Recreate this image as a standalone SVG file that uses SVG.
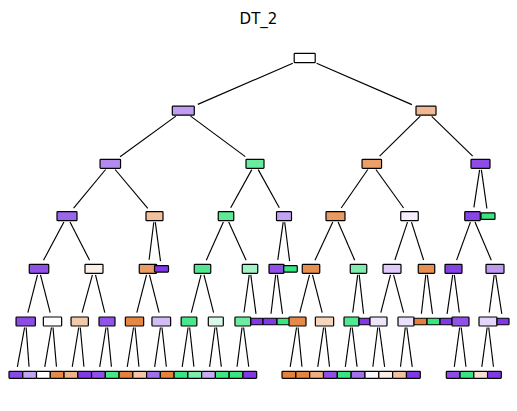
<svg xmlns="http://www.w3.org/2000/svg" width="517" height="411" viewBox="0 0 517 411">
<style>
.bg{fill:#ffffff}
.title{font-family:"DejaVu Sans","Liberation Sans",sans-serif;font-size:15px;fill:#000;text-anchor:middle}
.nd rect{stroke:#000;stroke-width:1.2}
#connectors line{stroke:#000;stroke-width:1.15;fill:none}
</style>
<rect class="bg" x="0" y="0" width="517" height="411"/>
<text class="title" x="258.5" y="23.5">DT_2</text>
<g id="connectors">
<line x1="292.8" y1="63.2" x2="197.8" y2="104.4"/>
<line x1="316.6" y1="63.2" x2="411.9" y2="104.6"/>
<line x1="175.9" y1="116.1" x2="120.1" y2="156.7"/>
<line x1="190.6" y1="116.1" x2="245.3" y2="156.6"/>
<line x1="420.3" y1="116.2" x2="379.6" y2="156.2"/>
<line x1="431.7" y1="116.3" x2="472.7" y2="156.2"/>
<line x1="105.6" y1="169.5" x2="73.6" y2="208.2"/>
<line x1="115.1" y1="169.5" x2="147.8" y2="208.3"/>
<line x1="251.8" y1="169.6" x2="230.7" y2="207.8"/>
<line x1="258.2" y1="169.6" x2="279.3" y2="207.8"/>
<line x1="367.8" y1="169.5" x2="341.2" y2="208.0"/>
<line x1="375.9" y1="169.5" x2="403.6" y2="208.0"/>
<line x1="479.6" y1="169.8" x2="473.9" y2="207.3"/>
<line x1="481.4" y1="169.8" x2="486.9" y2="208.5"/>
<line x1="63.9" y1="222.0" x2="43.5" y2="260.3"/>
<line x1="70.0" y1="222.0" x2="89.6" y2="260.3"/>
<line x1="153.8" y1="222.2" x2="149.1" y2="259.8"/>
<line x1="155.3" y1="222.2" x2="160.5" y2="261.1"/>
<line x1="223.4" y1="222.1" x2="206.3" y2="260.2"/>
<line x1="228.7" y1="222.1" x2="246.1" y2="260.2"/>
<line x1="283.2" y1="222.2" x2="277.8" y2="259.9"/>
<line x1="284.7" y1="222.2" x2="289.6" y2="261.1"/>
<line x1="332.8" y1="222.1" x2="315.0" y2="260.2"/>
<line x1="338.1" y1="222.1" x2="354.7" y2="260.2"/>
<line x1="407.5" y1="222.1" x2="394.9" y2="260.0"/>
<line x1="411.5" y1="222.1" x2="423.6" y2="260.0"/>
<line x1="470.4" y1="222.1" x2="456.6" y2="260.1"/>
<line x1="475.0" y1="222.1" x2="491.3" y2="260.2"/>
<line x1="37.5" y1="274.8" x2="27.9" y2="312.6"/>
<line x1="40.5" y1="274.8" x2="50.2" y2="312.6"/>
<line x1="92.4" y1="274.8" x2="82.1" y2="312.7"/>
<line x1="95.5" y1="274.8" x2="104.8" y2="312.6"/>
<line x1="146.5" y1="274.8" x2="136.8" y2="312.6"/>
<line x1="149.5" y1="274.8" x2="159.1" y2="312.6"/>
<line x1="201.0" y1="274.8" x2="191.3" y2="312.6"/>
<line x1="204.0" y1="274.8" x2="213.6" y2="312.6"/>
<line x1="249.2" y1="274.8" x2="244.0" y2="312.5"/>
<line x1="250.8" y1="274.8" x2="256.0" y2="313.8"/>
<line x1="275.7" y1="274.8" x2="271.0" y2="313.8"/>
<line x1="277.3" y1="274.8" x2="282.5" y2="313.8"/>
<line x1="309.5" y1="274.8" x2="299.8" y2="312.6"/>
<line x1="312.5" y1="274.8" x2="322.2" y2="312.6"/>
<line x1="357.7" y1="274.8" x2="352.7" y2="312.5"/>
<line x1="359.2" y1="274.8" x2="363.6" y2="313.8"/>
<line x1="390.5" y1="274.8" x2="380.8" y2="312.6"/>
<line x1="393.6" y1="274.8" x2="403.6" y2="312.7"/>
<line x1="425.8" y1="274.8" x2="421.4" y2="313.8"/>
<line x1="427.3" y1="274.8" x2="432.5" y2="313.8"/>
<line x1="452.7" y1="274.8" x2="447.1" y2="313.8"/>
<line x1="454.3" y1="274.8" x2="459.3" y2="312.5"/>
<line x1="494.2" y1="274.8" x2="489.2" y2="312.5"/>
<line x1="495.7" y1="274.8" x2="501.8" y2="313.8"/>
<line x1="24.6" y1="327.5" x2="17.35" y2="366.8"/>
<line x1="26.14" y1="327.5" x2="29.05" y2="366.8"/>
<line x1="51.48" y1="327.5" x2="44.77" y2="366.8"/>
<line x1="53.02" y1="327.5" x2="56.46" y2="366.8"/>
<line x1="78.72" y1="327.5" x2="72.24" y2="366.8"/>
<line x1="80.26" y1="327.5" x2="83.93" y2="366.8"/>
<line x1="106.04" y1="327.5" x2="99.72" y2="366.8"/>
<line x1="107.58" y1="327.5" x2="111.42" y2="366.8"/>
<line x1="133.54" y1="327.5" x2="127.24" y2="366.8"/>
<line x1="135.08" y1="327.5" x2="138.94" y2="366.8"/>
<line x1="160.42" y1="327.5" x2="154.65" y2="366.8"/>
<line x1="161.97" y1="327.5" x2="166.35" y2="366.8"/>
<line x1="188.1" y1="327.5" x2="182.2" y2="366.8"/>
<line x1="189.65" y1="327.5" x2="193.9" y2="366.8"/>
<line x1="214.98" y1="327.5" x2="209.61" y2="366.8"/>
<line x1="216.53" y1="327.5" x2="221.31" y2="366.8"/>
<line x1="242.04" y1="327.5" x2="237.05" y2="366.8"/>
<line x1="243.58" y1="327.5" x2="248.75" y2="366.8"/>
<line x1="296.54" y1="327.5" x2="290.19" y2="366.8"/>
<line x1="298.09" y1="327.5" x2="301.95" y2="366.8"/>
<line x1="323.61" y1="327.5" x2="317.75" y2="366.8"/>
<line x1="325.16" y1="327.5" x2="329.51" y2="366.8"/>
<line x1="350.68" y1="327.5" x2="345.31" y2="366.8"/>
<line x1="352.23" y1="327.5" x2="357.07" y2="366.8"/>
<line x1="377.76" y1="327.5" x2="372.87" y2="366.8"/>
<line x1="379.31" y1="327.5" x2="384.63" y2="366.8"/>
<line x1="405.28" y1="327.5" x2="400.51" y2="366.8"/>
<line x1="406.83" y1="327.5" x2="412.26" y2="366.8"/>
<line x1="459.68" y1="327.5" x2="454.3" y2="366.8"/>
<line x1="461.22" y1="327.5" x2="465.98" y2="366.8"/>
<line x1="487.18" y1="327.5" x2="481.8" y2="366.8"/>
<line x1="488.72" y1="327.5" x2="493.48" y2="366.8"/>
</g>
<g id="n0" class="nd"><rect x="294.2" y="53.3" width="21" height="9.4" rx="0.8" fill="#ffffff"/></g>
<g id="n1" class="nd"><rect x="172.3" y="106.2" width="22" height="9" rx="0.8" fill="#c09cf2"/></g>
<g id="n3" class="nd"><rect x="100.05" y="159.3" width="20.5" height="9" rx="0.8" fill="#b38aef"/></g>
<g id="n7" class="nd"><rect x="57" y="211.7" width="20" height="9" rx="0.8" fill="#9d65ea"/></g>
<g id="n15" class="nd"><rect x="29.25" y="264.3" width="19.5" height="9" rx="0.8" fill="#9050e8"/></g>
<g id="n29" class="nd"><rect x="16.05" y="317" width="19.3" height="9" rx="0.8" fill="#8d4be7"/></g>
<g id="l0" class="nd"><rect x="9" y="371.3" width="13.76" height="7" rx="0.8" fill="#8a48e7"/></g>
<g id="l1" class="nd"><rect x="22.76" y="371.3" width="13.76" height="7" rx="0.8" fill="#c3a3f3"/></g>
<g id="n30" class="nd"><rect x="43.35" y="317" width="18.3" height="9" rx="0.8" fill="#ffffff"/></g>
<g id="l2" class="nd"><rect x="36.52" y="371.3" width="13.76" height="7" rx="0.8" fill="#ffffff"/></g>
<g id="l3" class="nd"><rect x="50.28" y="371.3" width="13.76" height="7" rx="0.8" fill="#e78a48"/></g>
<g id="n16" class="nd"><rect x="85" y="264.3" width="18" height="9" rx="0.8" fill="#fbeee4"/></g>
<g id="n31" class="nd"><rect x="71.05" y="317" width="17.3" height="9" rx="0.8" fill="#f4c9aa"/></g>
<g id="l4" class="nd"><rect x="64.04" y="371.3" width="13.76" height="7" rx="0.8" fill="#efb388"/></g>
<g id="l5" class="nd"><rect x="77.8" y="371.3" width="13.76" height="7" rx="0.8" fill="#8139e5"/></g>
<g id="n32" class="nd"><rect x="99" y="317" width="16" height="9" rx="0.8" fill="#9253e8"/></g>
<g id="l6" class="nd"><rect x="91.56" y="371.3" width="13.76" height="7" rx="0.8" fill="#9050e8"/></g>
<g id="l7" class="nd"><rect x="105.32" y="371.3" width="13.76" height="7" rx="0.8" fill="#45e789"/></g>
<g id="n8" class="nd"><rect x="146" y="211.7" width="17" height="9" rx="0.8" fill="#f2c09c"/></g>
<g id="n17" class="nd"><rect x="139.25" y="264.3" width="17.5" height="9" rx="0.8" fill="#eb9c64"/></g>
<g id="n33" class="nd"><rect x="125.35" y="317" width="18.3" height="9" rx="0.8" fill="#e68844"/></g>
<g id="l8" class="nd"><rect x="119.08" y="371.3" width="13.76" height="7" rx="0.8" fill="#e58139"/></g>
<g id="l9" class="nd"><rect x="132.84" y="371.3" width="13.76" height="7" rx="0.8" fill="#f3c6a5"/></g>
<g id="n34" class="nd"><rect x="151.95" y="317" width="18.7" height="9" rx="0.8" fill="#d4bdf6"/></g>
<g id="l10" class="nd"><rect x="146.6" y="371.3" width="13.76" height="7" rx="0.8" fill="#a070eb"/></g>
<g id="l11" class="nd"><rect x="160.36" y="371.3" width="13.76" height="7" rx="0.8" fill="#e58139"/></g>
<g id="n18" class="nd"><rect x="154.5" y="265.55" width="14" height="6.5" rx="0.8" fill="#8139e5"/></g>
<g id="n4" class="nd"><rect x="246" y="159.3" width="18" height="9" rx="0.8" fill="#6aeca0"/></g>
<g id="n9" class="nd"><rect x="218.25" y="211.7" width="15.5" height="9" rx="0.8" fill="#5ee997"/></g>
<g id="n19" class="nd"><rect x="194.25" y="264.3" width="16.5" height="9" rx="0.8" fill="#4fe88f"/></g>
<g id="n35" class="nd"><rect x="181.15" y="317" width="15.7" height="9" rx="0.8" fill="#47e78a"/></g>
<g id="l12" class="nd"><rect x="174.12" y="371.3" width="13.76" height="7" rx="0.8" fill="#39e581"/></g>
<g id="l13" class="nd"><rect x="187.88" y="371.3" width="13.76" height="7" rx="0.8" fill="#7eedac"/></g>
<g id="n36" class="nd"><rect x="208.3" y="317" width="15" height="9" rx="0.8" fill="#d9f9e7"/></g>
<g id="l14" class="nd"><rect x="201.64" y="371.3" width="13.76" height="7" rx="0.8" fill="#c8aaf4"/></g>
<g id="l15" class="nd"><rect x="215.4" y="371.3" width="13.76" height="7" rx="0.8" fill="#3ee684"/></g>
<g id="n20" class="nd"><rect x="242.25" y="264.3" width="15.5" height="9" rx="0.8" fill="#a0f3c3"/></g>
<g id="n37" class="nd"><rect x="234.95" y="317" width="15.7" height="9" rx="0.8" fill="#6beca1"/></g>
<g id="l16" class="nd"><rect x="229.16" y="371.3" width="13.76" height="7" rx="0.8" fill="#39e581"/></g>
<g id="l17" class="nd"><rect x="242.92" y="371.3" width="13.76" height="7" rx="0.8" fill="#8139e5"/></g>
<g id="n38" class="nd"><rect x="250.85" y="318.25" width="12.3" height="6.5" rx="0.8" fill="#8139e5"/></g>
<g id="n10" class="nd"><rect x="276.5" y="211.7" width="15" height="9" rx="0.8" fill="#c3a2f3"/></g>
<g id="n21" class="nd"><rect x="269" y="264.3" width="15" height="9" rx="0.8" fill="#8f4fe8"/></g>
<g id="n39" class="nd"><rect x="263" y="318.25" width="14" height="6.5" rx="0.8" fill="#8139e5"/></g>
<g id="n40" class="nd"><rect x="277" y="318.25" width="13" height="6.5" rx="0.8" fill="#39e581"/></g>
<g id="n22" class="nd"><rect x="283.75" y="265.55" width="13.5" height="6.5" rx="0.8" fill="#39e581"/></g>
<g id="n2" class="nd"><rect x="416" y="106.2" width="20" height="9" rx="0.8" fill="#f1b991"/></g>
<g id="n5" class="nd"><rect x="362.05" y="159.3" width="19.5" height="9" rx="0.8" fill="#eba06a"/></g>
<g id="n11" class="nd"><rect x="326" y="211.7" width="19" height="9" rx="0.8" fill="#ea9a60"/></g>
<g id="n23" class="nd"><rect x="302.25" y="264.3" width="17.5" height="9" rx="0.8" fill="#e88f4f"/></g>
<g id="n41" class="nd"><rect x="289" y="317" width="17" height="9" rx="0.8" fill="#e78a47"/></g>
<g id="r0" class="nd"><rect x="282" y="371.3" width="13.83" height="7" rx="0.8" fill="#e58139"/></g>
<g id="r1" class="nd"><rect x="295.83" y="371.3" width="13.83" height="7" rx="0.8" fill="#e68540"/></g>
<g id="n42" class="nd"><rect x="315.35" y="317" width="18.3" height="9" rx="0.8" fill="#f6d5bd"/></g>
<g id="r2" class="nd"><rect x="309.66" y="371.3" width="13.83" height="7" rx="0.8" fill="#eeb083"/></g>
<g id="r3" class="nd"><rect x="323.49" y="371.3" width="13.83" height="7" rx="0.8" fill="#9050e8"/></g>
<g id="n24" class="nd"><rect x="350.25" y="264.3" width="16.5" height="9" rx="0.8" fill="#7eedac"/></g>
<g id="n43" class="nd"><rect x="344" y="317" width="15" height="9" rx="0.8" fill="#52e891"/></g>
<g id="r4" class="nd"><rect x="337.32" y="371.3" width="13.83" height="7" rx="0.8" fill="#39e581"/></g>
<g id="r5" class="nd"><rect x="351.15" y="371.3" width="13.83" height="7" rx="0.8" fill="#a470ec"/></g>
<g id="n44" class="nd"><rect x="359" y="318.25" width="11" height="6.5" rx="0.8" fill="#8139e5"/></g>
<g id="n12" class="nd"><rect x="400.75" y="211.7" width="17.5" height="9" rx="0.8" fill="#f4eefd"/></g>
<g id="n25" class="nd"><rect x="383" y="264.3" width="18" height="9" rx="0.8" fill="#ddcaf8"/></g>
<g id="n45" class="nd"><rect x="370" y="317" width="17" height="9" rx="0.8" fill="#eee4fb"/></g>
<g id="r6" class="nd"><rect x="364.98" y="371.3" width="13.83" height="7" rx="0.8" fill="#f9f6fe"/></g>
<g id="r7" class="nd"><rect x="378.81" y="371.3" width="13.83" height="7" rx="0.8" fill="#fbeee6"/></g>
<g id="n46" class="nd"><rect x="398" y="317" width="16" height="9" rx="0.8" fill="#ebe0fb"/></g>
<g id="r8" class="nd"><rect x="392.64" y="371.3" width="13.83" height="7" rx="0.8" fill="#f2c2a0"/></g>
<g id="r9" class="nd"><rect x="406.47" y="371.3" width="13.83" height="7" rx="0.8" fill="#8139e5"/></g>
<g id="n26" class="nd"><rect x="418.25" y="264.3" width="16.5" height="9" rx="0.8" fill="#e88e4e"/></g>
<g id="n47" class="nd"><rect x="414" y="318.25" width="13" height="6.5" rx="0.8" fill="#e58139"/></g>
<g id="n48" class="nd"><rect x="427" y="318.25" width="13" height="6.5" rx="0.8" fill="#39e581"/></g>
<g id="n6" class="nd"><rect x="471" y="159.3" width="19" height="9" rx="0.8" fill="#8d4be7"/></g>
<g id="n13" class="nd"><rect x="464.75" y="211.7" width="15.5" height="9" rx="0.8" fill="#8845e6"/></g>
<g id="n27" class="nd"><rect x="445" y="264.3" width="17" height="9" rx="0.8" fill="#8441e6"/></g>
<g id="n49" class="nd"><rect x="440" y="318.25" width="12" height="6.5" rx="0.8" fill="#8139e5"/></g>
<g id="n50" class="nd"><rect x="452" y="317" width="17" height="9" rx="0.8" fill="#9152e8"/></g>
<g id="s0" class="nd"><rect x="446.3" y="371.3" width="13.75" height="7" rx="0.8" fill="#8d4ce7"/></g>
<g id="s1" class="nd"><rect x="460.05" y="371.3" width="13.75" height="7" rx="0.8" fill="#39e581"/></g>
<g id="n28" class="nd"><rect x="486" y="264.3" width="18" height="9" rx="0.8" fill="#bd98f1"/></g>
<g id="n51" class="nd"><rect x="479" y="317" width="18" height="9" rx="0.8" fill="#e4d6fa"/></g>
<g id="s2" class="nd"><rect x="473.8" y="371.3" width="13.75" height="7" rx="0.8" fill="#f7e2d2"/></g>
<g id="s3" class="nd"><rect x="487.55" y="371.3" width="13.75" height="7" rx="0.8" fill="#8139e5"/></g>
<g id="n52" class="nd"><rect x="497" y="318.25" width="12" height="6.5" rx="0.8" fill="#8139e5"/></g>
<g id="n14" class="nd"><rect x="481" y="212.95" width="14" height="6.5" rx="0.8" fill="#39e581"/></g>
</svg>
